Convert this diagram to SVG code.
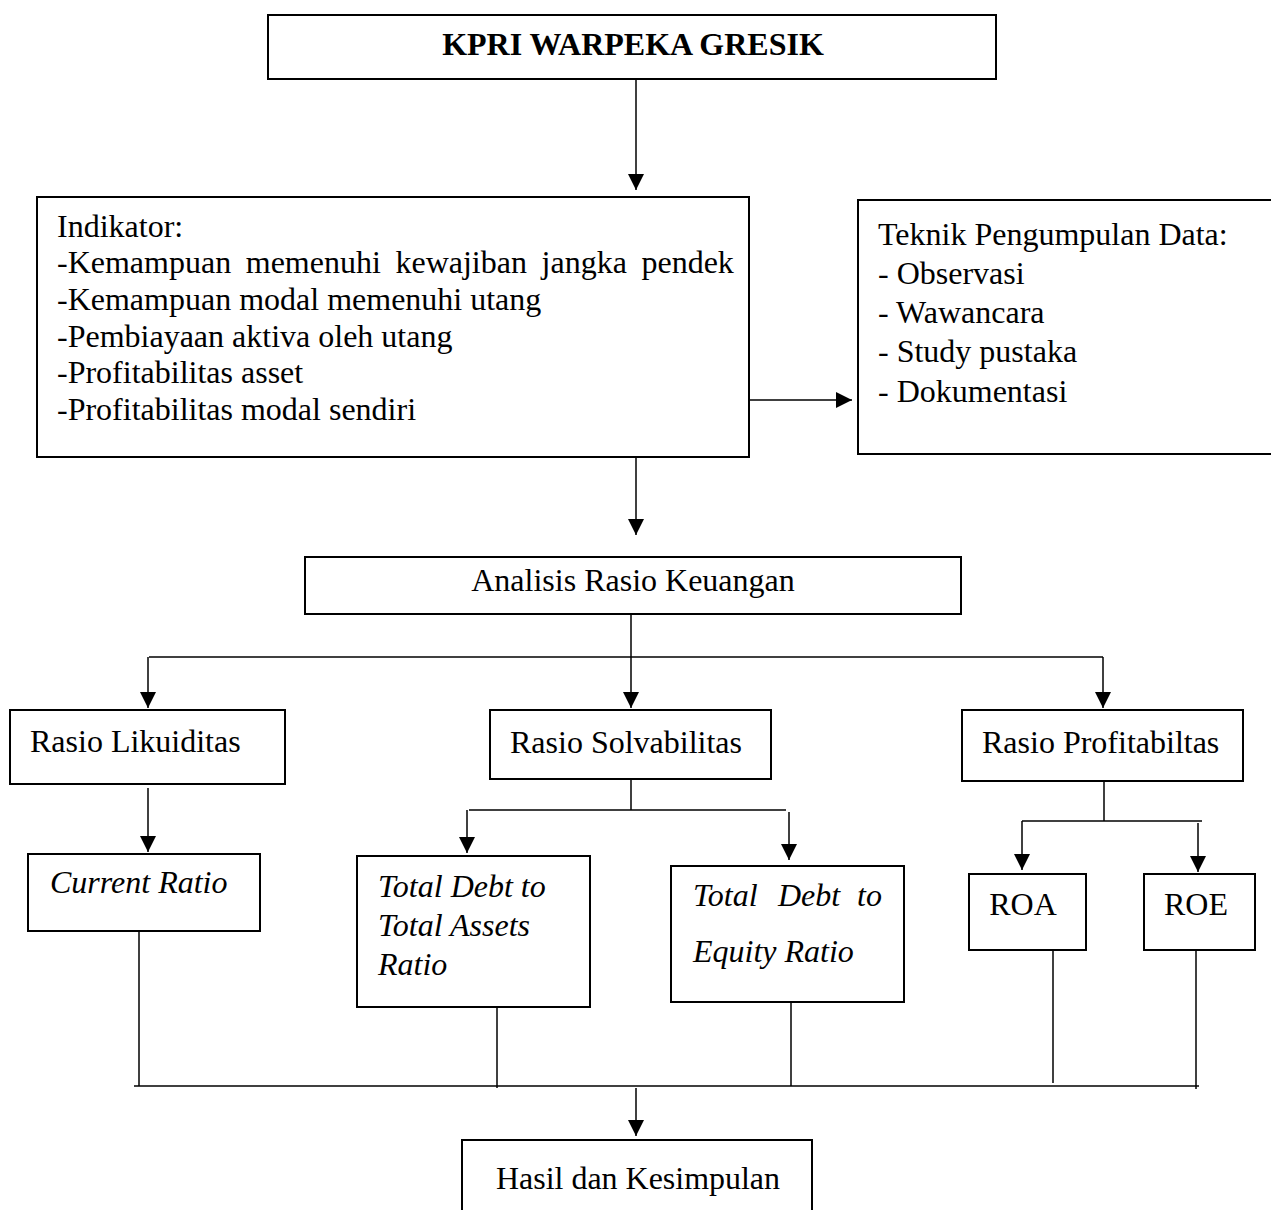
<svg xmlns="http://www.w3.org/2000/svg" width="1271" height="1210" viewBox="0 0 1271 1210">
<style>
.box{fill:#fff;stroke:#000;stroke-width:2}
.t{font-family:"Liberation Serif","Times New Roman",serif;font-size:32px;fill:#000}
.i{font-style:italic}
.c{fill:none;stroke:#000;stroke-width:1.5}
</style>
<defs>
<marker id="ah" viewBox="0 0 10 10" refX="10" refY="5" markerWidth="16" markerHeight="16" markerUnits="userSpaceOnUse" orient="auto">
<path d="M0,0 L10,5 L0,10 Z" fill="#000"/>
</marker>
</defs>
<rect width="1271" height="1210" fill="#fff"/>
<g id="connectors">
<line class="c" x1="636" y1="79" x2="636" y2="190" marker-end="url(#ah)"/>
<line class="c" x1="749" y1="400" x2="852" y2="400" marker-end="url(#ah)"/>
<line class="c" x1="636" y1="457" x2="636" y2="535" marker-end="url(#ah)"/>
<line class="c" x1="631" y1="614" x2="631" y2="658"/>
<line class="c" x1="149" y1="657" x2="1103" y2="657"/>
<line class="c" x1="148" y1="657" x2="148" y2="708" marker-end="url(#ah)"/>
<line class="c" x1="631" y1="658" x2="631" y2="708" marker-end="url(#ah)"/>
<line class="c" x1="1103" y1="657" x2="1103" y2="708" marker-end="url(#ah)"/>
<line class="c" x1="148" y1="788" x2="148" y2="852" marker-end="url(#ah)"/>
<line class="c" x1="631" y1="779" x2="631" y2="810"/>
<line class="c" x1="469" y1="810" x2="786" y2="810"/>
<line class="c" x1="467" y1="810" x2="467" y2="853" marker-end="url(#ah)"/>
<line class="c" x1="789" y1="812" x2="789" y2="860" marker-end="url(#ah)"/>
<line class="c" x1="1104" y1="781" x2="1104" y2="821"/>
<line class="c" x1="1022" y1="821" x2="1202" y2="821"/>
<line class="c" x1="1022" y1="821" x2="1022" y2="870" marker-end="url(#ah)"/>
<line class="c" x1="1198" y1="823" x2="1198" y2="872" marker-end="url(#ah)"/>
<line class="c" x1="139" y1="931" x2="139" y2="1086"/>
<line class="c" x1="497" y1="1007" x2="497" y2="1088"/>
<line class="c" x1="791" y1="1002" x2="791" y2="1086"/>
<line class="c" x1="1053" y1="944" x2="1053" y2="1083"/>
<line class="c" x1="1196" y1="948" x2="1196" y2="1089"/>
<line class="c" x1="134" y1="1086" x2="1199" y2="1086"/>
<line class="c" x1="636" y1="1088" x2="636" y2="1136" marker-end="url(#ah)"/>
</g>
<g id="kpri">
<rect class="box" x="268" y="15" width="728" height="64"/>
<text class="t" x="633" y="55" text-anchor="middle" font-weight="bold">KPRI WARPEKA GRESIK</text>
</g>
<g id="indikator">
<rect class="box" x="37" y="197" width="712" height="260"/>
<text class="t" x="57" y="237">Indikator:</text>
<text class="t" x="57" y="273" word-spacing="6.6">-Kemampuan memenuhi kewajiban jangka pendek</text>
<text class="t" x="57" y="310">-Kemampuan modal memenuhi utang</text>
<text class="t" x="57" y="347">-Pembiayaan aktiva oleh utang</text>
<text class="t" x="57" y="383">-Profitabilitas asset</text>
<text class="t" x="57" y="420">-Profitabilitas modal sendiri</text>
</g>
<g id="teknik">
<rect class="box" x="858" y="200" width="420" height="254"/>
<text class="t" x="878" y="245">Teknik Pengumpulan Data:</text>
<text class="t" x="878" y="284">- Observasi</text>
<text class="t" x="878" y="323">- Wawancara</text>
<text class="t" x="878" y="362">- Study pustaka</text>
<text class="t" x="878" y="402">- Dokumentasi</text>
</g>
<g id="analisis">
<rect class="box" x="305" y="557" width="656" height="57"/>
<text class="t" x="633" y="591" text-anchor="middle">Analisis Rasio Keuangan</text>
</g>
<g id="likuiditas">
<rect class="box" x="10" y="710" width="275" height="74"/>
<text class="t" x="30" y="752">Rasio Likuiditas</text>
</g>
<g id="solvabilitas">
<rect class="box" x="490" y="710" width="281" height="69"/>
<text class="t" x="510" y="753">Rasio Solvabilitas</text>
</g>
<g id="profitabilitas">
<rect class="box" x="962" y="710" width="281" height="71"/>
<text class="t" x="982" y="753">Rasio Profitabiltas</text>
</g>
<g id="current">
<rect class="box" x="28" y="854" width="232" height="77"/>
<text class="t i" x="50" y="893">Current Ratio</text>
</g>
<g id="tdta">
<rect class="box" x="357" y="856" width="233" height="151"/>
<text class="t i" x="378" y="897">Total Debt to</text>
<text class="t i" x="378" y="936">Total Assets</text>
<text class="t i" x="378" y="975">Ratio</text>
</g>
<g id="tde">
<rect class="box" x="671" y="866" width="233" height="136"/>
<text class="t i" x="693" y="906">Total</text>
<text class="t i" x="778" y="906">Debt</text>
<text class="t i" x="882" y="906" text-anchor="end">to</text>
<text class="t i" x="693" y="962">Equity Ratio</text>
</g>
<g id="roa">
<rect class="box" x="969" y="874" width="117" height="76"/>
<text class="t" x="1023" y="915" text-anchor="middle">ROA</text>
</g>
<g id="roe">
<rect class="box" x="1144" y="874" width="111" height="76"/>
<text class="t" x="1196" y="915" text-anchor="middle">ROE</text>
</g>
<g id="hasil">
<path class="box" d="M462,1215 L462,1140 L812,1140 L812,1215"/>
<text class="t" x="638" y="1189" text-anchor="middle" textLength="284" lengthAdjust="spacingAndGlyphs">Hasil dan Kesimpulan</text>
</g>
</svg>
